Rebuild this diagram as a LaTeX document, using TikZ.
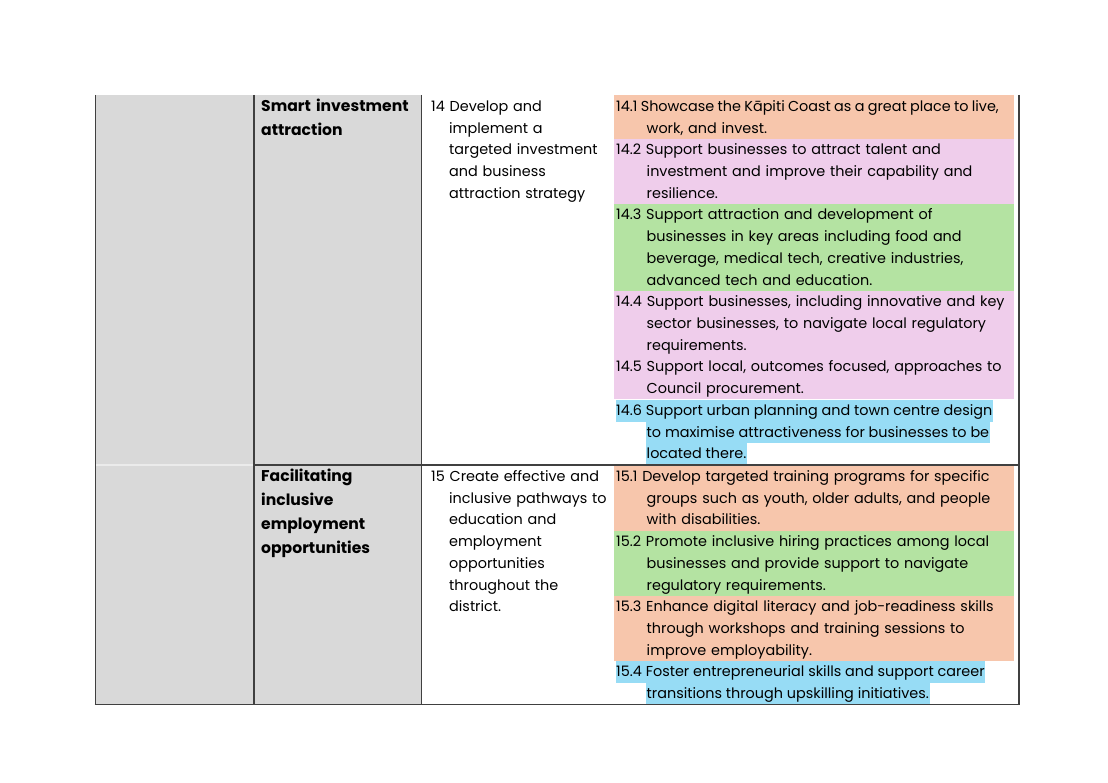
\documentclass[tikz,border=0pt]{standalone}
\usepackage{fontspec}
\setmainfont{Poppins}
\definecolor{cellgray}{HTML}{D9D9D9}
\definecolor{rulegray}{HTML}{404040}
\definecolor{softgray}{HTML}{EBEBEB}
\definecolor{peach}{HTML}{F7C6AC}
\definecolor{lilac}{HTML}{EFCDEB}
\definecolor{mint}{HTML}{B4E3A2}
\definecolor{sky}{HTML}{97DCF5}
% line break followed by the hanging indent of a cell
\newcommand{\ind}[1]{\\\hspace*{#1}}

\begin{document}
\begin{tikzpicture}[x=1pt, y=-1pt,
    every node/.style = {inner sep=0pt, anchor=base west, align=left},
    body/.style = {font=\fontsize{14.4}{21.7}\selectfont},
    head/.style = {font=\fontsize{15.6}{24}\selectfont\bfseries, text width=160pt},
    goal/.style = {body, text width=190pt},
    action/.style = {body, text width=430pt},
    hilite/.style = {body, fill=sky, inner xsep=0.6pt,
      text height=15.5pt, text depth=6.2pt},
    rule/.style = {draw=rulegray, line width=1.6pt}]
  \useasboundingbox (0,0) rectangle (1108,783);

  % cell backgrounds
  \fill[cellgray] (95.5,95) rectangle (421.5,704.5);
  \fill[peach] (614,95.5) rectangle (1014,138.9);
  \fill[lilac] (614,138.9) rectangle (1014,204);
  \fill[mint] (614,204) rectangle (1014,290.8);
  \fill[lilac] (614,290.8) rectangle (1014,399.3);
  \fill[peach] (614,465.5) rectangle (1014,530.6);
  \fill[mint] (614,530.6) rectangle (1014,595.7);
  \fill[peach] (614,595.7) rectangle (1014,660.8);

  % first row
  \node[head] (area14) at (261,111.5) {Smart investment\\attraction};
  \node[goal] (goal14) at (431,111.5)
    {14 Develop and\ind{18pt}implement a\ind{18pt}targeted investment\ind{18pt}and
     business\ind{18pt}attraction strategy};
  \node[action] (act141) at (616,111.5)
    {{\spaceskip=3.3pt 14.1 Showcase the Kāpiti Coast as a great place to live,}\ind{30.5pt}work, and invest.};
  \node[action] (act142) at (616,154.9)
    {14.2 Support businesses to attract talent and\ind{30.5pt}investment and improve
     their capability and\ind{30.5pt}resilience.};
  \node[action] (act143) at (616,220)
    {14.3 Support attraction and development of\ind{30.5pt}businesses in key areas
     including food and\ind{30.5pt}beverage, medical tech, creative
     industries,\ind{30.5pt}advanced tech and education.};
  \node[action] (act144) at (616,306.8)
    {14.4 Support businesses, including innovative and key\ind{30.5pt}sector
     businesses, to navigate local regulatory\ind{30.5pt}requirements.};
  \node[action] (act145) at (616,371.9)
    {14.5 Support local, outcomes focused, approaches to\ind{30.5pt}Council procurement.};
  \node[hilite] (act146a) at (615.4,415.3) {14.6 Support urban planning and town centre design};
  \node[hilite] (act146b) at (645.9,437) {to maximise attractiveness for businesses to be};
  \node[hilite] (act146c) at (645.9,458.7) {located there.};

  % second row
  \node[head] (area15) at (261,481.5)
    {Facilitating\\inclusive\\employment\\opportunities};
  \node[goal] (goal15) at (431,481.5)
    {15 Create effective and\ind{18pt}inclusive pathways to\ind{18pt}education
     and\ind{18pt}employment\ind{18pt}opportunities\ind{18pt}throughout
     the\ind{18pt}district.};
  \node[action] (act151) at (616,481.5)
    {15.1 Develop targeted training programs for specific\ind{30.5pt}groups such as
     youth, older adults, and people\ind{30.5pt}with disabilities.};
  \node[action] (act152) at (616,546.6)
    {15.2 Promote inclusive hiring practices among local\ind{30.5pt}businesses and
     provide support to navigate\ind{30.5pt}regulatory requirements.};
  \node[action] (act153) at (616,611.7)
    {15.3 Enhance digital literacy and job-readiness skills\ind{30.5pt}through
     workshops and training sessions to\ind{30.5pt}improve employability.};
  \node[hilite] (act154a) at (615.4,676.8) {15.4 Foster entrepreneurial skills and support career};
  \node[hilite] (act154b) at (645.9,698.5) {transitions through upskilling initiatives.};

  % table rules
  \draw[softgray, line width=1.2pt] (95.5,465) -- (254,465);
  \draw[rule] (254,465) -- (1019,465);
  \draw[rule] (94.7,704.5) -- (1019.8,704.5);
  \draw[rule] (95.5,95) -- (95.5,704.5);
  \draw[rule] (254,95) -- (254,704.5);
  \draw[rule] (421.5,95) -- (421.5,704.5);
  \draw[rule] (1019,95) -- (1019,704.5);
\end{tikzpicture}
\end{document}
